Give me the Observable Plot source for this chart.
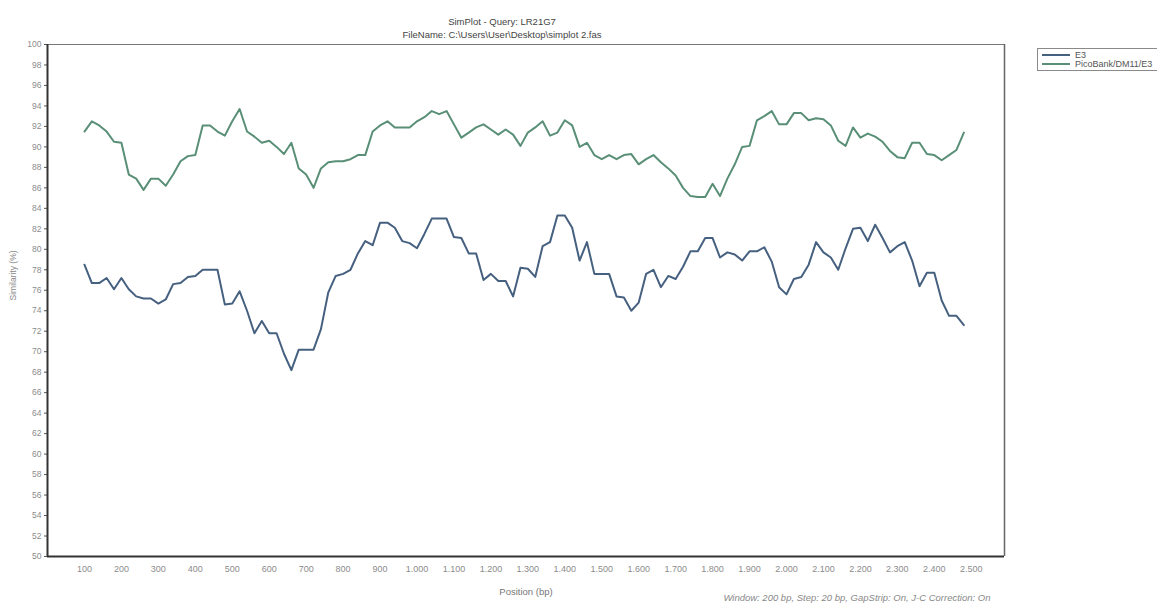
<!DOCTYPE html>
<html>
<head>
<meta charset="utf-8">
<script src="https://cdn.jsdelivr.net/npm/d3@7"></script>
<script src="https://cdn.jsdelivr.net/npm/@observablehq/plot@0.6"></script>
<style>
  html, body { margin: 0; padding: 0; background: #fff; }
  #wrap { position: relative; width: 1157px; height: 604px; font-family: "Liberation Sans", Arial, sans-serif; }
  #legend { position: absolute; left: 1037px; top: 48px; border: 1px solid #8a8a8a; border-right: none; padding: 1px 0 2px 4px; font-size: 9px; color: #555; background: #fff; width: 125px; }
  #legend .row { display: flex; align-items: center; height: 9px; white-space: nowrap; }
  #legend .sw { display: inline-block; width: 28px; height: 0; border-top: 2px solid; margin-right: 5px; }
</style>
</head>
<body>
<div id="wrap"></div>
<script>
// ---- data ----
const titleText = "SimPlot - Query: LR21G7";
const fileText = "FileName: C:\\Users\\User\\Desktop\\simplot 2.fas";
const footerText = "Window: 200 bp, Step: 20 bp, GapStrip: On, J-C Correction: On";
const xLabel = "Position (bp)";
const yLabel = "Similarity (%)";
const seriesNames = ["E3", "PicoBank/DM11/E3"];
const seriesColors = ["#46607f", "#5a8f77"];

const positions = [
  100,120,140,160,180,200,220,240,260,280,
  300,320,340,360,380,400,420,440,460,480,
  500,520,540,560,580,600,620,640,660,680,
  700,720,740,760,780,800,820,840,860,880,
  900,920,940,960,980,1000,1020,1040,1060,1080,
  1100,1120,1140,1160,1180,1200,1220,1240,1260,1280,
  1300,1320,1340,1360,1380,1400,1420,1440,1460,1480,
  1500,1520,1540,1560,1580,1600,1620,1640,1660,1680,
  1700,1720,1740,1760,1780,1800,1820,1840,1860,1880,
  1900,1920,1940,1960,1980,2000,2020,2040,2060,2080,
  2100,2120,2140,2160,2180,2200,2220,2240,2260,2280,
  2300,2320,2340,2360,2380,2400,2420,2440,2460,2480
];

const e3Values = [
  78.5,76.7,76.7,77.2,76.1,77.2,76.1,75.4,75.2,75.2,
  74.7,75.1,76.6,76.7,77.3,77.4,78.0,78.0,78.0,74.6,
  74.7,75.9,74.0,71.8,73.0,71.8,71.8,69.8,68.2,70.2,
  70.2,70.2,72.2,75.8,77.4,77.6,78.0,79.6,80.8,80.4,
  82.6,82.6,82.1,80.8,80.6,80.1,81.5,83.0,83.0,83.0,
  81.2,81.1,79.6,79.6,77.0,77.6,76.9,76.9,75.4,78.2,
  78.1,77.3,80.3,80.7,83.3,83.3,82.1,78.9,80.7,77.6,
  77.6,77.6,75.4,75.3,74.0,74.8,77.6,78.0,76.3,77.4,
  77.1,78.3,79.8,79.8,81.1,81.1,79.2,79.7,79.5,78.9,
  79.8,79.8,80.2,78.8,76.3,75.6,77.1,77.3,78.5,80.7,
  79.7,79.2,78.0,80.1,82.0,82.1,80.8,82.4,81.1,79.7,
  80.3,80.7,78.9,76.4,77.7,77.7,75.0,73.5,73.5,72.6
];

const picoValues = [
  91.5,92.5,92.1,91.5,90.5,90.4,87.3,86.9,85.8,86.9,
  86.9,86.2,87.3,88.6,89.1,89.2,92.1,92.1,91.5,91.1,
  92.5,93.7,91.5,91.0,90.4,90.6,90.0,89.3,90.4,87.9,
  87.3,86.0,87.9,88.5,88.6,88.6,88.8,89.2,89.2,91.5,
  92.1,92.5,91.9,91.9,91.9,92.5,92.9,93.5,93.2,93.5,
  92.2,90.9,91.4,91.9,92.2,91.7,91.2,91.7,91.2,90.1,
  91.4,91.9,92.5,91.1,91.4,92.6,92.1,90.0,90.4,89.2,
  88.8,89.2,88.8,89.2,89.3,88.3,88.8,89.2,88.5,87.9,
  87.2,86.0,85.2,85.1,85.1,86.4,85.2,86.9,88.3,90.0,
  90.1,92.6,93.0,93.5,92.2,92.2,93.3,93.3,92.6,92.8,
  92.7,92.1,90.6,90.1,91.9,90.9,91.3,91.0,90.5,89.6,
  89.0,88.9,90.4,90.4,89.3,89.2,88.7,89.2,89.7,91.4
];

const xTicks = [100,200,300,400,500,600,700,800,900,1000,1100,1200,1300,1400,1500,1600,1700,1800,1900,2000,2100,2200,2300,2400,2500];
const yTicks = [50,52,54,56,58,60,62,64,66,68,70,72,74,76,78,80,82,84,86,88,90,92,94,96,98,100];
const xDomain = [0, 2590];
const yDomain = [50, 100];

// ---- build table ----
const rows = [];
positions.forEach((p, i) => {
  rows.push({pos: p, value: e3Values[i], series: seriesNames[0]});
  rows.push({pos: p, value: picoValues[i], series: seriesNames[1]});
});

const fmtX = d => d >= 1000 ? String(d).replace(/(\d)(?=(\d{3})+$)/g, "$1.") : String(d);

const chart = Plot.plot({
  width: 1157,
  height: 604,
  marginLeft: 47,
  marginRight: 153,
  marginTop: 44,
  marginBottom: 48,
  style: {fontFamily: "'Liberation Sans', Arial, sans-serif", background: "#fff", overflow: "visible"},
  x: {domain: xDomain},
  y: {domain: yDomain},
  color: {domain: seriesNames, range: seriesColors},
  marks: [
    Plot.axisY({ticks: yTicks, tickSize: 3, tickPadding: 3, fontSize: 8.5, color: "#8c8c8c", stroke: "#555", label: null}),
    Plot.axisX({ticks: xTicks, tickSize: 0, tickPadding: 9, fontSize: 9, color: "#8c8c8c", tickFormat: fmtX, label: null}),
    Plot.ruleY([yDomain[1]], {stroke: "#777", strokeWidth: 1}),
    Plot.ruleX([xDomain[1]], {stroke: "#666", strokeWidth: 1.5}),
    Plot.line(rows, {x: "pos", y: "value", z: "series", stroke: "series", strokeWidth: 2, strokeLinejoin: "round"}),
    Plot.ruleX([xDomain[0]], {stroke: "#333", strokeWidth: 2}),
    Plot.ruleY([yDomain[0]], {stroke: "#333", strokeWidth: 2}),
    Plot.text([titleText], {frameAnchor: "top", dx: -24, dy: -26, fontSize: 9.5, fill: "#444"}),
    Plot.text([fileText], {frameAnchor: "top", dx: -24, dy: -13, fontSize: 9.5, fill: "#444"}),
    Plot.text([xLabel], {frameAnchor: "bottom", dy: 38, fontSize: 9.5, fill: "#777"}),
    Plot.text([yLabel], {frameAnchor: "left", rotate: -90, dx: -34, fontSize: 8.5, fill: "#888"}),
    Plot.text([footerText], {frameAnchor: "bottom-right", textAnchor: "end", dx: -14, dy: 44, fontSize: 9.5, fontStyle: "italic", fill: "#888"})
  ]
});

const wrap = document.getElementById("wrap");
wrap.appendChild(chart);

const legend = document.createElement("div");
legend.id = "legend";
seriesNames.forEach((name, i) => {
  const row = document.createElement("div");
  row.className = "row";
  const sw = document.createElement("span");
  sw.className = "sw";
  sw.style.borderTopColor = seriesColors[i];
  const label = document.createElement("span");
  label.textContent = name;
  row.appendChild(sw);
  row.appendChild(label);
  legend.appendChild(row);
});
wrap.appendChild(legend);
</script>
</body>
</html>
